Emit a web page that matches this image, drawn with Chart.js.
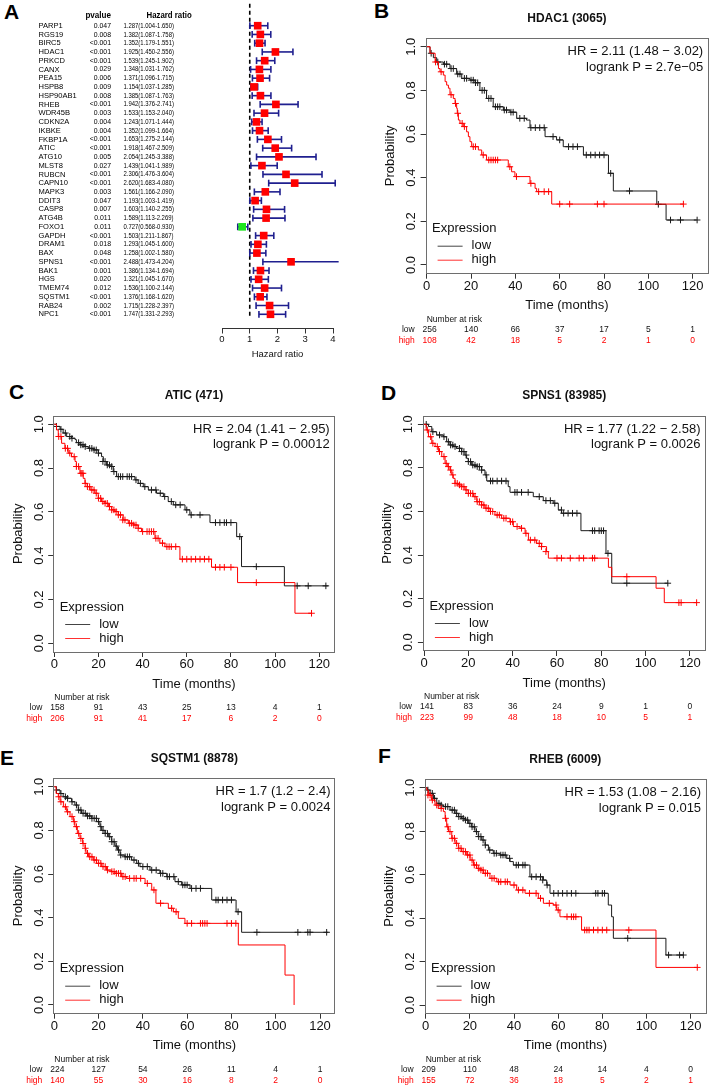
<!doctype html>
<html>
<head>
<meta charset="utf-8">
<title>Autophagy genes - forest plot and KM curves</title>
<script src="https://cdn.jsdelivr.net/npm/chart.js@4.4.0/dist/chart.umd.min.js"></script>
<style>
html, body { margin:0; padding:0; background:#fff; overflow:hidden; }
body { width:709px; height:1086px; position:relative; font-family:"Liberation Sans", Arial, sans-serif; }
canvas { position:absolute; }
.tag { position:absolute; font:bold 21px/21px "Liberation Sans", Arial, sans-serif; color:#000; }
</style>
</head>
<body>
<div class="tag" style="left:4px;top:1px">A</div>
<div class="tag" style="left:374px;top:0px">B</div>
<div class="tag" style="left:9px;top:381px">C</div>
<div class="tag" style="left:381px;top:382px">D</div>
<div class="tag" style="left:0px;top:747px">E</div>
<div class="tag" style="left:378px;top:745px">F</div>

<script>
// ---------- panel A : univariate cox, forest plot ----------
var genes = ['PARP1','RGS19','BIRC5','HDAC1','PRKCD','CANX','PEA15','HSPB8','HSP90AB1','RHEB',
  'WDR45B','CDKN2A','IKBKE','FKBP1A','ATIC','ATG10','MLST8','RUBCN','CAPN10','MAPK3',
  'DDIT3','CASP8','ATG4B','FOXO1','GAPDH','DRAM1','BAX','SPNS1','BAK1','HGS',
  'TMEM74','SQSTM1','RAB24','NPC1'];
var pvals = ['0.047','0.008','<0.001','<0.001','<0.001','0.029','0.006','0.009','0.008','<0.001',
  '0.003','0.004','0.004','<0.001','<0.001','0.005','0.027','<0.001','<0.001','0.003',
  '0.047','0.007','0.011','0.011','<0.001','0.018','0.048','<0.001','0.001','0.020',
  '0.012','<0.001','0.002','<0.001'];
var hr   = [1.287,1.382,1.352,1.925,1.539,1.348,1.371,1.154,1.385,1.942,1.533,1.243,1.352,1.653,1.918,2.054,1.439,
  2.306,2.620,1.561,1.193,1.603,1.589,0.727,1.503,1.293,1.258,2.488,1.386,1.321,1.536,1.376,1.715,1.747];
var hrLo = [1.004,1.087,1.179,1.450,1.245,1.031,1.096,1.037,1.087,1.376,1.153,1.071,1.099,1.275,1.467,1.245,1.041,
  1.476,1.683,1.166,1.003,1.140,1.113,0.568,1.211,1.045,1.002,1.473,1.134,1.045,1.100,1.168,1.228,1.331];
var hrHi = [1.650,1.758,1.551,2.556,1.902,1.762,1.715,1.285,1.763,2.741,2.040,1.444,1.664,2.144,2.509,3.388,1.989,
  3.604,4.080,2.090,1.419,2.255,2.269,0.930,1.867,1.600,1.580,4.204,1.694,1.670,2.144,1.620,2.397,2.293];
var hrTicks = [0,1,2,3,4];

// ---------- KM panels ----------
var timeTicks = [0,20,40,60,80,100,120];
var probTicks = [0,0.2,0.4,0.6,0.8,1.0];

// B  HDAC1
var hdacLowT = [0,1.5,3,4.5,7.5,10.5,13.5,15.8,19.5,21.8,24,27,30,34.6,37.6,40.6,45,46.6,53.4,58.6,61.6,70.7,82,84.2,103.8,108,121.8];
var hdacLowS = [1,.97,.95,.93,.92,.90,.875,.855,.847,.835,.80,.763,.725,.71,.70,.672,.664,.629,.588,.573,.542,.504,.42,.339,.278,.206,.206];
var hdacLowCT = [2,5,8,9,11,12,14,15,17,18,20,21,22,23,25,26,28,29,31,32,33,35,36,38,39,42,44,47,49,51,53,57,60,64,66,68,72,74,76,78,80,83,91.5,104.5,110,114.5,122];
var hdacLowCS = [.97,.93,.92,.92,.90,.90,.875,.875,.855,.855,.847,.847,.835,.835,.80,.80,.763,.763,.725,.725,.725,.71,.71,.70,.70,.672,.672,.629,.629,.629,.629,.588,.573,.542,.542,.542,.504,.504,.504,.504,.504,.42,.339,.278,.206,.206,.206];
var hdacHighT = [0,1.5,3.8,5.3,6,7.5,8.3,9,9.8,10.5,12,12.8,13.5,13.8,14.3,15,16.5,18,18.8,19.5,20.3,23.3,24.8,27,36.8,38.3,39.8,46.6,48.9,49.6,56.4,115.8];
var hdacHighS = [1,.97,.93,.90,.885,.87,.84,.824,.81,.78,.763,.74,.718,.695,.664,.649,.634,.61,.588,.565,.542,.527,.504,.481,.45,.427,.405,.374,.351,.336,.279,.279];
var hdacHighCT = [4,6.5,11,13,14,16,17,21,22,25.5,28,29,30,31,32,37.5,40.5,47,50.5,53,55,60,64.5,77,80,115.8];
var hdacHighCS = [.93,.885,.78,.74,.695,.649,.634,.542,.542,.504,.481,.481,.481,.481,.481,.45,.405,.374,.336,.336,.336,.279,.279,.279,.279,.279];
var hdacRiskLow = [256,140,66,37,17,5,1];
var hdacRiskHigh = [108,42,18,5,2,1,0];

// C  ATIC
var aticLowT = [0,1,2.6,4,5.6,7.8,9.4,10,11.6,13.9,15.4,17.7,19.9,21.4,22.2,23.7,25.2,26.7,28.2,36.5,38,40.3,42.6,46.3,49.4,51.6,53.9,59.2,61.4,70.5,82.6,84.8,104.2,124];
var aticLowS = [1,.99,.977,.96,.944,.936,.93,.916,.906,.898,.89,.883,.868,.852,.83,.814,.807,.784,.761,.746,.73,.715,.70,.685,.67,.647,.632,.609,.586,.551,.487,.35,.262,.262];
var aticLowCT = [1,3,5,7,8,11,12,13,14,16,17,18,19,20,22,23,24,25,26,27,29,30,31,33,34,35,37,39,41,44,46,48,50,53,55,57,60,62,66,73,75,77,78,80,84,91.5,110,115,123];
var aticLowCS = [.99,.977,.96,.944,.936,.916,.906,.906,.898,.89,.89,.883,.883,.868,.83,.83,.814,.814,.807,.784,.761,.761,.761,.761,.761,.761,.746,.73,.715,.70,.70,.685,.67,.647,.632,.632,.609,.586,.586,.551,.551,.551,.551,.551,.487,.35,.262,.262,.262];
var aticHighT = [0,1,1.8,3.3,4.8,6.3,7.8,9.4,10,11.6,13.1,13.9,14.9,16.2,18.4,19.9,21.4,22.9,24.5,26,27.5,29,31.2,33.5,35.8,38,39.5,45.6,47.8,50.1,56.9,71.2,83,109,116.5];
var aticHighS = [1,.974,.944,.913,.89,.868,.852,.83,.807,.776,.753,.73,.715,.70,.685,.662,.647,.639,.624,.609,.601,.586,.563,.548,.54,.525,.51,.479,.457,.441,.384,.347,.277,.137,.137];
var aticHighCT = [2,3,5,6,7,9,10,11,12,12.5,13,14,15,16,17,18,19,20,21,22,23,24,25,26,27,28,29,30,31,32,34,35,36,37,38,40,42,43,44,45,46,47,49,51,52,53,55,58,60,62,64,66,68,70,73,75,77,80,91.5,116.5];
var aticHighCS = [.944,.944,.89,.89,.868,.852,.807,.807,.776,.776,.776,.73,.715,.715,.70,.70,.685,.662,.662,.647,.639,.639,.624,.609,.609,.601,.586,.586,.563,.563,.548,.548,.54,.54,.525,.51,.51,.51,.51,.51,.479,.479,.457,.441,.441,.441,.441,.384,.384,.384,.384,.384,.384,.384,.347,.347,.347,.347,.277,.137];
var aticRiskLow = [158,91,43,25,13,4,1];
var aticRiskHigh = [206,91,41,17,6,2,0];

// D  SPNS1
var spnsLowT = [0,2,3.5,5.7,8.7,10.2,11.7,13.2,14.7,17,18.5,19.2,20,21.5,23.8,26,27.5,28.3,38,38.8,49.3,53.8,58.3,60.6,62.1,70.8,82.1,84.7,110];
var spnsLowS = [1,.99,.966,.951,.943,.92,.905,.898,.89,.875,.859,.844,.829,.813,.806,.79,.768,.74,.714,.688,.668,.65,.638,.607,.592,.512,.408,.271,.271];
var spnsLowCT = [1,4,7,9,11,12,13,14,16,17,18,19,20,21,22,23,24,25,26,28,30,31,33,35,37,41,42,44,47,52,55,57,59,62,63,65,67,69,76,77,79,80,81,83,91.5,110];
var spnsLowCS = [1,.966,.951,.943,.92,.905,.905,.898,.89,.875,.875,.859,.829,.829,.813,.813,.806,.806,.79,.768,.74,.74,.74,.74,.74,.688,.688,.688,.688,.668,.65,.65,.638,.607,.592,.592,.592,.592,.512,.512,.512,.512,.512,.408,.271,.271];
var spnsHighT = [0,1,2,3.5,5,6.5,8,9.5,10.5,11.7,12.5,13.2,14,15.5,17,18.5,20,22.3,23.8,26,27.5,29.8,32,35,38.8,40.3,43.3,45.6,47.1,50.8,53.1,55.3,56.1,83.2,84.7,104.7,108.4,123];
var spnsHighS = [1,.974,.943,.913,.898,.875,.852,.821,.806,.79,.768,.752,.729,.722,.714,.699,.683,.668,.645,.63,.615,.60,.584,.569,.553,.531,.523,.50,.469,.454,.439,.416,.386,.344,.301,.248,.182,.182];
var spnsHighCT = [1.5,3,4,6,7,9,10,11,12,13,14,15,16,17,18,19,20,21,22,23,24,25,26,27,28,29,30,31,33,34,36,37,39,40,42,44,46,48,50,52,53,55,60,62,66,70,72,76,77,91.5,115,116,123];
var spnsHighCS = [.974,.943,.913,.898,.875,.852,.821,.806,.79,.768,.729,.729,.722,.714,.714,.699,.683,.683,.683,.668,.645,.645,.63,.63,.615,.615,.60,.60,.584,.584,.569,.569,.553,.553,.531,.523,.50,.469,.469,.454,.439,.416,.386,.386,.386,.386,.386,.386,.386,.301,.182,.182,.182];
var spnsRiskLow = [141,83,36,24,9,1,0];
var spnsRiskHigh = [223,99,48,18,10,5,1];

// E  SQSTM1
var sqsLowT = [0,1,2.6,4,5.6,7.8,9.3,10.8,12.3,14.6,16.9,19.1,20.6,21.4,22.9,24.4,25.9,27.4,28.5,29.7,31.9,34.9,37.2,38.7,43.2,47.7,50.8,54.5,57.5,61.3,71.1,82.1,84.6,123.8];
var sqsLowS = [1,.985,.969,.954,.947,.931,.916,.893,.878,.866,.855,.84,.817,.80,.786,.771,.748,.728,.71,.687,.679,.664,.649,.634,.618,.603,.588,.565,.55,.534,.481,.427,.333,.333];
var sqsLowCT = [1,3,5,6,8,10,11,12,13,14,15,16,17,18,19,20,21,22,23,24,25,26,27,28,29,30,32,33,34,36,38,40,42,44,46,48,49,51,52,54,56,58,59,60,62,64,66,73,74,76,78,80,83,91.5,110,114.5,115.5,123];
var sqsLowCS = [.985,.969,.954,.947,.931,.916,.893,.893,.878,.878,.866,.866,.855,.855,.855,.84,.817,.80,.786,.786,.771,.748,.748,.728,.71,.687,.679,.679,.679,.664,.649,.634,.634,.618,.618,.603,.603,.588,.588,.588,.565,.55,.55,.55,.534,.534,.534,.481,.481,.481,.481,.481,.427,.333,.333,.333,.333,.333];
var sqsHighT = [0,0.8,1.8,2.6,4.1,5.6,7.1,8.6,9.3,10.4,11.6,12.8,13.9,14.3,15.4,17.6,19.1,21.4,23.6,25.9,27.4,30.4,32.7,41,44,45.9,51.5,53.8,56,59,83.1,104.2,108.3];
var sqsHighS = [1,.969,.954,.931,.908,.885,.863,.84,.817,.786,.763,.74,.718,.695,.679,.664,.649,.634,.618,.611,.603,.588,.58,.557,.527,.466,.443,.427,.397,.374,.275,.137,0];
var sqsHighCT = [2,3,5,6,8,9,10,11,12,13,14,15,16,17,18,19,20,21,22,23,24,26,27,28,29,30,31,32,34,36,37,39,42,45,48,53,55,60,62,66,67,68,69,78,80,82];
var sqsHighCS = [.954,.931,.908,.885,.863,.84,.817,.786,.763,.74,.718,.695,.679,.679,.664,.664,.649,.649,.634,.634,.618,.611,.611,.603,.603,.603,.588,.588,.58,.58,.58,.58,.557,.527,.466,.443,.427,.374,.374,.374,.374,.374,.374,.374,.374,.374];
var sqsRiskLow = [224,127,54,26,11,4,1];
var sqsRiskHigh = [140,55,30,16,8,2,0];

// F  RHEB
var rhebLowT = [0,0.8,2,3.5,5,6.5,8,11,13.3,14.8,16.3,17.8,19.3,20.8,22.3,23.8,25.4,26.9,28.4,30.6,33.7,36.7,38.2,39.7,47.2,53.3,54.8,56.3,82.7,84.2,85,108.8,116.7];
var rhebLowS = [1,.989,.974,.951,.928,.92,.913,.897,.882,.867,.859,.851,.836,.82,.798,.775,.759,.736,.713,.698,.69,.675,.66,.644,.59,.575,.552,.514,.46,.406,.307,.23,.23];
var rhebLowCT = [1,3,4,6,7,9,10,12,13,14,15,16,17,18,19,20,21,22,23,24,25,26,27,29,31,32,34,35,36,38,41,42,44,45,48,50,52,53,55,58,60,62,64,66,68,77,78,80,81,91.5,110,115,116.7];
var rhebLowCS = [.989,.974,.951,.928,.92,.913,.913,.897,.897,.882,.867,.867,.859,.851,.851,.836,.82,.82,.798,.775,.775,.759,.736,.713,.698,.698,.69,.69,.69,.675,.644,.644,.644,.644,.59,.59,.59,.575,.552,.514,.514,.514,.514,.514,.514,.514,.514,.514,.514,.307,.23,.23,.23];
var rhebHighT = [0,0.5,1.2,2.7,4.2,5.7,8,8.8,9.5,10.3,11.8,13.3,14.8,16.3,18.6,20.1,21.6,23.1,24.6,26.1,29.1,32.2,38.2,41.2,45,51,53.3,57.8,59.3,60.8,70.6,104.3,122.7];
var rhebHighS = [1,.989,.966,.943,.92,.905,.89,.859,.82,.798,.767,.744,.721,.706,.69,.667,.644,.629,.621,.606,.583,.567,.552,.529,.514,.491,.468,.46,.437,.406,.345,.173,.173];
var rhebHighCT = [1,2,3,5,7,9,10,11,12,13,14,15,16,17,18,19,20,21,22,23,24,25,26,27,28,30,31,33,34,36,37,40,42,44,47,50,52,56,59,60,64,66,67,68,72,73,74,76,78,80,82,92,123];
var rhebHighCS = [.966,.966,.943,.92,.905,.859,.82,.798,.767,.767,.744,.721,.721,.706,.706,.69,.69,.667,.644,.644,.629,.621,.621,.606,.606,.583,.583,.567,.567,.567,.567,.552,.529,.529,.514,.514,.491,.468,.46,.437,.406,.406,.406,.406,.345,.345,.345,.345,.345,.345,.345,.345,.173];
var rhebRiskLow = [209,110,48,24,14,4,0];
var rhebRiskHigh = [155,72,36,18,5,2,1];

var FF = '"Liberation Sans", Arial, Helvetica, sans-serif';
Chart.defaults.font.family = FF;
Chart.defaults.color = '#111';
Chart.defaults.animation = false;
Chart.defaults.plugins.legend.display = false;
Chart.defaults.plugins.tooltip.enabled = false;

function makeCanvas(left, top, w, h) {
  var c = document.createElement('canvas');
  c.width = w; c.height = h;
  c.style.left = left + 'px'; c.style.top = top + 'px';
  document.body.appendChild(c);
  return c.getContext('2d');
}

function sxText(ctx, s, x, y, align, sx) {
  ctx.save();
  ctx.translate(x, y);
  ctx.scale(sx, 1);
  ctx.textAlign = align;
  ctx.fillText(s, 0, 0);
  ctx.restore();
}

// ---- forest plot ----
var forestTable = {
  id: 'forestTable',
  afterDraw: function(chart) {
    var ctx = chart.ctx, y = chart.scales.y;
    ctx.save();
    ctx.fillStyle = '#000';
    ctx.textBaseline = 'middle';
    ctx.font = 'bold 8.5px ' + FF;
    var hy = y.getPixelForValue(-1.14);
    sxText(ctx, 'pvalue', 111, hy, 'right', 0.95);
    sxText(ctx, 'Hazard ratio', 146.5, hy, 'left', 0.92);
    for (var i = 0; i < genes.length; i++) {
      var py = y.getPixelForValue(i);
      ctx.font = '7.8px ' + FF;
      sxText(ctx, genes[i], 38.5, py, 'left', 0.97);
      ctx.font = '7.5px ' + FF;
      sxText(ctx, pvals[i], 111, py, 'right', 0.92);
      sxText(ctx, hr[i].toFixed(3) + '(' + hrLo[i].toFixed(3) + '-' + hrHi[i].toFixed(3) + ')', 123.5, py, 'left', 0.79);
    }
    ctx.restore();
  }
};

var forestSets = [{
  type: 'scatter',
  data: genes.map(function(g, i) { return {x: hr[i], y: i}; }),
  pointStyle: 'rect', pointRadius: 5.4,
  pointBackgroundColor: hr.map(function(v) { return v < 1 ? '#1ee61e' : '#ff0000'; }),
  pointBorderWidth: 0, clip: false
}];
genes.forEach(function(g, i) {
  forestSets.push({
    type: 'line',
    data: [{x: hrLo[i], y: i}, {x: hrHi[i], y: i}],
    borderColor: '#1f1f8f', borderWidth: 1.6,
    pointStyle: 'line', rotation: 90, pointRadius: 3.4,
    pointBorderColor: '#1f1f8f', pointBorderWidth: 1.6, clip: false
  });
});
forestSets.push({
  type: 'line', data: [{x: 1, y: -2.5}, {x: 1, y: 33.3}],
  borderColor: '#000', borderWidth: 1.6, borderDash: [4, 3], pointRadius: 0, clip: false
});

new Chart(makeCanvas(0, 0, 350, 365), {
  type: 'scatter',
  data: { datasets: forestSets },
  options: {
    responsive: false,
    layout: { autoPadding: false, padding: { left: 222, right: 17, top: 0, bottom: 0.5 } },
    scales: {
      x: {
        type: 'linear', min: 0, max: 4,
        afterBuildTicks: function(s) { s.ticks = hrTicks.map(function(v) { return {value: v}; }); },
        afterFit: function(s) { s.height = 36; },
        grid: { display: true, drawOnChartArea: false, drawTicks: true, tickLength: 5, color: '#333' },
        border: { display: true, color: '#333', width: 1 },
        ticks: { padding: 0, font: { size: 9.5 }, color: '#111', autoSkip: false, maxRotation: 0 },
        title: { display: true, text: 'Hazard ratio', font: { size: 9.5 }, color: '#111', padding: { top: 0, bottom: 4.8 } }
      },
      y: { type: 'linear', display: false, reverse: true, min: -2.939, max: 34.625 }
    }
  },
  plugins: [forestTable]
});

// ---- Kaplan-Meier panels ----
var kmDeco = {
  id: 'kmDeco',
  afterDraw: function(chart, args, o) {
    var ctx = chart.ctx, a = chart.chartArea, x = chart.scales.x;
    ctx.save();
    ctx.strokeStyle = '#6e6e6e'; ctx.lineWidth = 1;
    ctx.strokeRect(Math.round(a.left) + 0.5, Math.round(a.top) + 0.5, Math.round(a.right - a.left) - 1, Math.round(a.bottom - a.top) - 1);
    ctx.fillStyle = '#111'; ctx.textBaseline = 'middle';
    ctx.textAlign = 'center';
    ctx.font = 'bold 12px ' + FF;
    ctx.fillText(o.title, (a.left + a.right) / 2, a.top - 19.5);
    ctx.font = '13px ' + FF;
    ctx.textAlign = 'right';
    ctx.fillText(o.hr, a.right - 5, a.top + 13.5);
    ctx.fillText(o.p, a.right - 5, a.top + 29);
    // legend
    ctx.textAlign = 'left';
    ctx.fillText('Expression', a.left + 6.5, a.bottom - 45);
    ctx.fillText('low', a.left + 46, a.bottom - 28);
    ctx.fillText('high', a.left + 46, a.bottom - 14);
    ctx.lineWidth = 1;
    ctx.strokeStyle = '#444';
    ctx.beginPath(); ctx.moveTo(a.left + 12, a.bottom - 27.5); ctx.lineTo(a.left + 37, a.bottom - 27.5); ctx.stroke();
    ctx.strokeStyle = '#ff3030';
    ctx.beginPath(); ctx.moveTo(a.left + 12, a.bottom - 13.5); ctx.lineTo(a.left + 37, a.bottom - 13.5); ctx.stroke();
    // number at risk
    ctx.font = '8.5px ' + FF;
    var x0 = x.getPixelForValue(0);
    ctx.fillText('Number at risk', x0, a.bottom + 45.5);
    ctx.textAlign = 'right';
    ctx.fillText('low', x0 - 12, a.bottom + 56);
    ctx.fillStyle = '#ff0000';
    ctx.fillText('high', x0 - 12, a.bottom + 66.5);
    ctx.textAlign = 'center';
    for (var i = 0; i < timeTicks.length; i++) {
      var px = x.getPixelForValue(timeTicks[i]);
      ctx.fillStyle = '#111';
      ctx.fillText(String(o.riskLow[i]), px + (i === 0 ? 3 : 0), a.bottom + 56);
      ctx.fillStyle = '#ff0000';
      ctx.fillText(String(o.riskHigh[i]), px + (i === 0 ? 3 : 0), a.bottom + 66.5);
    }
    ctx.restore();
  }
};

function pts(T, S) { return T.map(function(t, i) { return {x: t, y: S[i]}; }); }

function km(box, d) {
  var l = box[0], t = box[1], r = box[2], b = box[3];
  var cl = Math.floor(l - 58), ct = Math.floor(t - 32);
  var cw = Math.ceil(r + 4) - cl, ch = Math.ceil(b + 78) - ct;
  var low = '#1a1a1a', high = '#ff0000';
  new Chart(makeCanvas(cl, ct, cw, ch), {
    type: 'scatter',
    data: { datasets: [
      { type: 'scatter', data: pts(d.hct, d.hcs), pointStyle: 'cross', pointRadius: 3.3, pointBorderColor: high, pointBorderWidth: 1, clip: false },
      { type: 'line', data: pts(d.ht, d.hs), stepped: 'before', borderColor: high, borderWidth: 1, pointRadius: 0 },
      { type: 'scatter', data: pts(d.lct, d.lcs), pointStyle: 'cross', pointRadius: 3.3, pointBorderColor: low, pointBorderWidth: 1, clip: false },
      { type: 'line', data: pts(d.lt, d.ls), stepped: 'before', borderColor: low, borderWidth: 1, pointRadius: 0 }
    ] },
    options: {
      responsive: false,
      layout: { autoPadding: false, padding: { left: l - cl - 54, top: t - ct, right: cl + cw - r, bottom: ct + ch - b - 40 } },
      scales: {
        x: {
          type: 'linear', min: -0.5, max: 127,
          afterBuildTicks: function(s) { s.ticks = timeTicks.map(function(v) { return {value: v}; }); },
          afterFit: function(s) { s.height = 40; },
          grid: { display: true, drawOnChartArea: false, drawTicks: true, tickLength: 5, color: '#333' },
          border: { display: false },
          ticks: { padding: 0, font: { size: 13 }, color: '#111', autoSkip: false, maxRotation: 0 },
          title: { display: true, text: 'Time (months)', font: { size: 13 }, color: '#111', padding: { top: 0, bottom: 0 } }
        },
        y: {
          type: 'linear', min: -0.04, max: 1.04,
          afterBuildTicks: function(s) { s.ticks = probTicks.map(function(v) { return {value: v}; }); },
          afterFit: function(s) { s.width = 54; },
          grid: { display: true, drawOnChartArea: false, drawTicks: true, tickLength: 5, color: '#333' },
          border: { display: false },
          ticks: { padding: 0, font: { size: 13 }, color: '#111', minRotation: 90, maxRotation: 90, crossAlign: 'center',
            callback: function(v) { return v.toFixed(1); } },
          title: { display: true, text: 'Probability', font: { size: 13 }, color: '#111', padding: { top: 11.2, bottom: 0 } }
        }
      },
      plugins: { kmDeco: { title: d.title, hr: d.hr, p: d.p, riskLow: d.rl, riskHigh: d.rh } }
    },
    plugins: [kmDeco]
  });
}

km([425.6, 38, 708.2, 273.7], { title: 'HDAC1 (3065)', hr: 'HR = 2.11 (1.48 \u2212 3.02)', p: 'logrank P = 2.7e\u221205',
  lt: hdacLowT, ls: hdacLowS, lct: hdacLowCT, lcs: hdacLowCS, ht: hdacHighT, hs: hdacHighS, hct: hdacHighCT, hcs: hdacHighCS,
  rl: hdacRiskLow, rh: hdacRiskHigh });
km([53.2, 415.5, 334.7, 652], { title: 'ATIC (471)', hr: 'HR = 2.04 (1.41 \u2212 2.95)', p: 'logrank P = 0.00012',
  lt: aticLowT, ls: aticLowS, lct: aticLowCT, lcs: aticLowCS, ht: aticHighT, hs: aticHighS, hct: aticHighCT, hcs: aticHighCS,
  rl: aticRiskLow, rh: aticRiskHigh });
km([422.9, 415.6, 705.5, 651], { title: 'SPNS1 (83985)', hr: 'HR = 1.77 (1.22 \u2212 2.58)', p: 'logrank P = 0.0026',
  lt: spnsLowT, ls: spnsLowS, lct: spnsLowCT, lcs: spnsLowCS, ht: spnsHighT, hs: spnsHighS, hct: spnsHighCT, hcs: spnsHighCS,
  rl: spnsRiskLow, rh: spnsRiskHigh });
km([53.2, 778, 335.5, 1013.7], { title: 'SQSTM1 (8878)', hr: 'HR = 1.7 (1.2 \u2212 2.4)', p: 'logrank P = 0.0024',
  lt: sqsLowT, ls: sqsLowS, lct: sqsLowCT, lcs: sqsLowCS, ht: sqsHighT, hs: sqsHighS, hct: sqsHighCT, hcs: sqsHighCS,
  rl: sqsRiskLow, rh: sqsRiskHigh });
km([424.6, 779, 706.1, 1013.7], { title: 'RHEB (6009)', hr: 'HR = 1.53 (1.08 \u2212 2.16)', p: 'logrank P = 0.015',
  lt: rhebLowT, ls: rhebLowS, lct: rhebLowCT, lcs: rhebLowCS, ht: rhebHighT, hs: rhebHighS, hct: rhebHighCT, hcs: rhebHighCS,
  rl: rhebRiskLow, rh: rhebRiskHigh });
</script>
</body>
</html>
